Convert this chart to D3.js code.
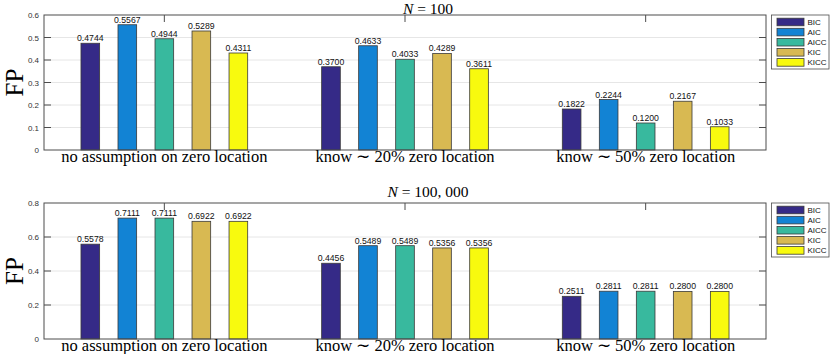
<!DOCTYPE html>
<html>
<head>
<meta charset="utf-8">
<script src="https://cdn.jsdelivr.net/npm/d3@7"></script>
<style>
  body { margin: 0; background: #fff; }
  svg { display: block; }
</style>
</head>
<body>
<svg id="chart" width="830" height="354"></svg>
<script>
// grouped bars, two panels (N = 100 / N = 100,000)

const methods = ["BIC", "AIC", "AICC", "KIC", "KICC"];
const colors = ["#352a87", "#1283d4", "#38b99e", "#d8b952", "#f8fa0e"];
const categories = ["no assumption on zero location", "know \u223C 20% zero location", "know \u223C 50% zero location"];

// FP for N = 100, one array per method (one value per category)
const small_BIC  = [0.4744, 0.3700, 0.1822];
const small_AIC  = [0.5567, 0.4633, 0.2244];
const small_AICC = [0.4944, 0.4033, 0.1200];
const small_KIC  = [0.5289, 0.4289, 0.2167];
const small_KICC = [0.4311, 0.3611, 0.1033];

// FP for N = 100,000
const large_BIC  = [0.5578, 0.4456, 0.2511];
const large_AIC  = [0.7111, 0.5489, 0.2811];
const large_AICC = [0.7111, 0.5489, 0.2811];
const large_KIC  = [0.6922, 0.5356, 0.2800];
const large_KICC = [0.6922, 0.5356, 0.2800];

const smallTicks = [0, 0.1, 0.2, 0.3, 0.4, 0.5, 0.6];
const largeTicks = [0, 0.2, 0.4, 0.6, 0.8];

const svg = d3.select("#chart");
const axisColor = "#4d4d4d";

function drawPanel(p) {
    let x = d3.scaleLinear().domain([0.5, 3.5]).range([p.left, p.right]);
    let y = d3.scaleLinear().domain([0, p.ymax]).range([p.bottom, p.top]);
    let g = svg.append("g");

    // grid
    g.selectAll(".grid").data(p.ticks.slice(1, -1)).join("line")
        .attr("x1", p.left).attr("x2", p.right)
        .attr("y1", d => y(d)).attr("y2", d => y(d))
        .attr("stroke", "#e6e6e6").attr("stroke-width", 1);

    // bars
    let step = 0.1538, bw = 0.0775;
    let bars = [];
    p.series.forEach((vals, m) => {
        vals.forEach((v, c) => bars.push({m: m, c: c, v: v}));
    });
    g.selectAll(".bar").data(bars).join("rect")
        .attr("x", d => x(d.c + 1 + (d.m - 2) * step - bw / 2))
        .attr("width", d => x(1 + bw) - x(1))
        .attr("y", d => y(d.v))
        .attr("height", d => y(0) - y(d.v))
        .attr("fill", d => colors[d.m])
        .attr("stroke", "#3a3a3a").attr("stroke-width", 0.8);

    g.selectAll(".val").data(bars).join("text")
        .attr("x", d => x(d.c + 1 + (d.m - 2) * step))
        .attr("y", d => y(d.v) - 2)
        .attr("text-anchor", "middle")
        .attr("font-family", "Liberation Sans, Arial, sans-serif")
        .attr("font-size", 8.7)
        .attr("fill", "#111")
        .text(d => d.v.toFixed(4));

    // y axis
    let yAxis = g.append("g")
        .attr("transform", "translate(" + p.left + ",0)")
        .call(d3.axisLeft(y).tickValues(p.ticks).tickFormat(d => d3.format("")(+d.toFixed(1))).tickSize(0).tickPadding(5));
    yAxis.select(".domain").remove();
    yAxis.selectAll("text")
        .attr("font-family", "Liberation Sans, Arial, sans-serif")
        .attr("font-size", 8)
        .attr("fill", "#333");

    // inner ticks on right side and on left side
    g.selectAll(".rt").data(p.ticks.slice(1, -1)).join("line")
        .attr("x1", p.right - 7).attr("x2", p.right)
        .attr("y1", d => y(d)).attr("y2", d => y(d))
        .attr("stroke", axisColor);
    g.selectAll(".lt").data(p.ticks.slice(1, -1)).join("line")
        .attr("x1", p.left).attr("x2", p.left + 7)
        .attr("y1", d => y(d)).attr("y2", d => y(d))
        .attr("stroke", axisColor);
    // category ticks on the top edge
    g.selectAll(".tt").data([1, 2, 3]).join("line")
        .attr("x1", d => x(d)).attr("x2", d => x(d))
        .attr("y1", p.top).attr("y2", p.top + 7)
        .attr("stroke", axisColor);

    // box
    g.append("rect")
        .attr("x", p.left).attr("y", p.top)
        .attr("width", p.right - p.left).attr("height", p.bottom - p.top)
        .attr("fill", "none").attr("stroke", axisColor).attr("stroke-width", 1);

    // category labels
    g.selectAll(".cat").data(categories).join("text")
        .attr("x", (d, i) => x(i + 1))
        .attr("y", p.bottom + 11.5)
        .attr("text-anchor", "middle")
        .attr("font-family", "Liberation Serif, Times New Roman, serif")
        .attr("font-size", 16.5)
        .attr("fill", "#000")
        .text(d => d);

    // title
    let t = g.append("text")
        .attr("x", p.titleX).attr("y", p.titleY)
        .attr("text-anchor", "middle")
        .attr("font-family", "Liberation Serif, Times New Roman, serif")
        .attr("font-size", 15.5)
        .attr("fill", "#000");
    t.append("tspan").attr("font-style", "italic").text("N");
    t.append("tspan").text(" = " + p.title);

    // y label
    g.append("text")
        .attr("transform", "translate(" + 22.5 + "," + ((p.top + p.bottom) / 2) + ") rotate(-90)")
        .attr("text-anchor", "middle")
        .attr("font-family", "Liberation Serif, Times New Roman, serif")
        .attr("font-size", 25)
        .attr("fill", "#000")
        .text("FP");

    // legend
    let lg = g.append("g").attr("transform", "translate(771.5," + p.top + ")");
    lg.append("rect").attr("width", 57.5).attr("height", 54)
        .attr("fill", "#fff").attr("stroke", axisColor).attr("stroke-width", 0.8);
    let rows = lg.selectAll(".row").data(methods).join("g")
        .attr("transform", (d, i) => "translate(0," + (7 + i * 10.1) + ")");
    rows.append("rect")
        .attr("x", 5.5).attr("y", -3.8).attr("width", 27).attr("height", 7.6)
        .attr("fill", (d, i) => colors[i])
        .attr("stroke", "#3a3a3a").attr("stroke-width", 0.8);
    rows.append("text")
        .attr("x", 36).attr("y", 3)
        .attr("font-family", "Liberation Sans, Arial, sans-serif")
        .attr("font-size", 8)
        .attr("fill", "#111")
        .text(d => d);
}

drawPanel({
    left: 44, right: 766, top: 15, bottom: 150,
    ymax: 0.6, ticks: smallTicks,
    series: [small_BIC, small_AIC, small_AICC, small_KIC, small_KICC],
    title: "100", titleX: 428, titleY: 14
});

drawPanel({
    left: 44, right: 766, top: 203, bottom: 339,
    ymax: 0.8, ticks: largeTicks,
    series: [large_BIC, large_AIC, large_AICC, large_KIC, large_KICC],
    title: "100, 000", titleX: 428, titleY: 197
});
</script>
</body>
</html>
